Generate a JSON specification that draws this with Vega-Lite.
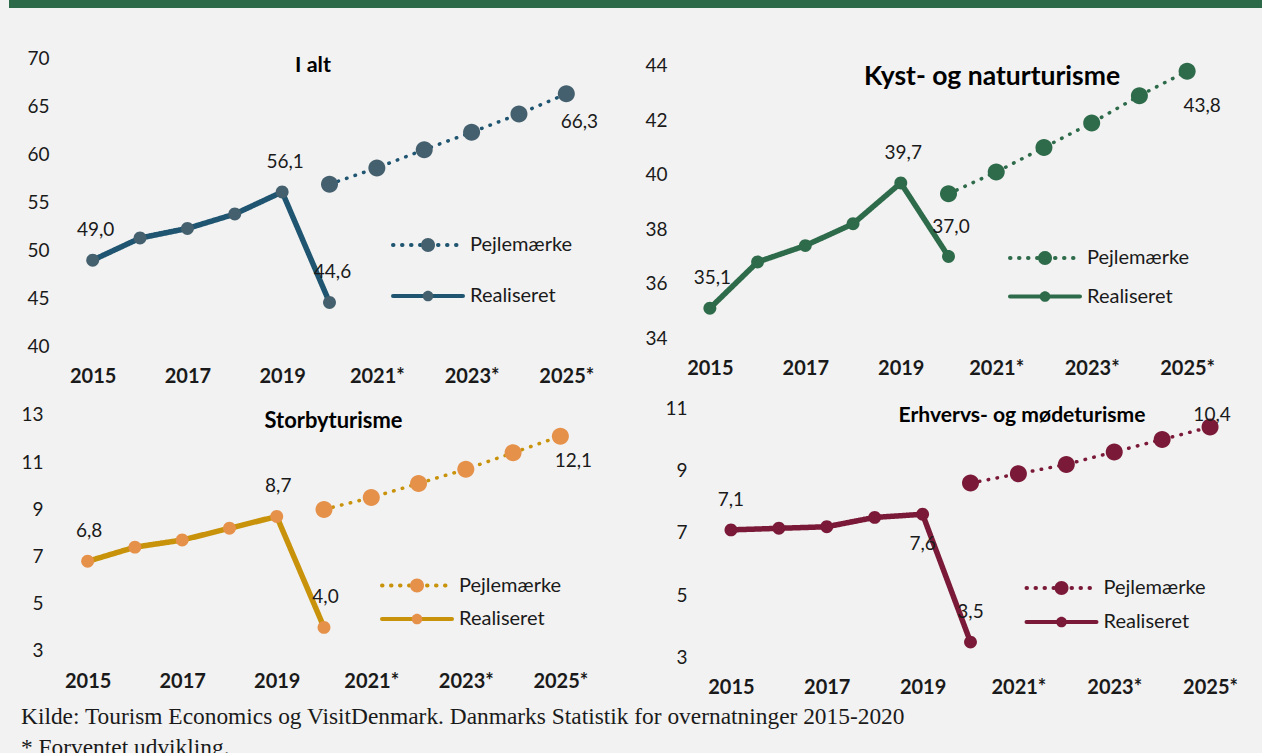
{
  "$schema": "https://vega.github.io/schema/vega-lite/v6.json",
  "background": "#F2F2F2",
  "padding": {"left": 9, "top": 0, "right": 0, "bottom": -7},
  "title": {
    "text": ["Kilde: Tourism Economics og VisitDenmark. Danmarks Statistik for overnatninger 2015-2020", "* Forventet udvikling."],
    "orient": "bottom", "anchor": "start", "frame": "group", "font": "Liberation Serif", "fontSize": 23.4, "fontWeight": "normal",
    "color": "#1a1a1a", "lineHeight": 31, "offset": 6, "dx": 12, "baseline": "top"
  },
  "datasets": {
    "ialt": [
      {"year": 2015, "serie": "Realiseret", "value": 49.0},
      {"year": 2016, "serie": "Realiseret", "value": 51.3},
      {"year": 2017, "serie": "Realiseret", "value": 52.3},
      {"year": 2018, "serie": "Realiseret", "value": 53.8},
      {"year": 2019, "serie": "Realiseret", "value": 56.1},
      {"year": 2020, "serie": "Realiseret", "value": 44.6},
      {"year": 2020, "serie": "Pejlemærke", "value": 56.9},
      {"year": 2021, "serie": "Pejlemærke", "value": 58.6},
      {"year": 2022, "serie": "Pejlemærke", "value": 60.5},
      {"year": 2023, "serie": "Pejlemærke", "value": 62.3},
      {"year": 2024, "serie": "Pejlemærke", "value": 64.2},
      {"year": 2025, "serie": "Pejlemærke", "value": 66.3}
    ],
    "kyst": [
      {"year": 2015, "serie": "Realiseret", "value": 35.1},
      {"year": 2016, "serie": "Realiseret", "value": 36.8},
      {"year": 2017, "serie": "Realiseret", "value": 37.4},
      {"year": 2018, "serie": "Realiseret", "value": 38.2},
      {"year": 2019, "serie": "Realiseret", "value": 39.7},
      {"year": 2020, "serie": "Realiseret", "value": 37.0},
      {"year": 2020, "serie": "Pejlemærke", "value": 39.3},
      {"year": 2021, "serie": "Pejlemærke", "value": 40.1},
      {"year": 2022, "serie": "Pejlemærke", "value": 41.0},
      {"year": 2023, "serie": "Pejlemærke", "value": 41.9},
      {"year": 2024, "serie": "Pejlemærke", "value": 42.9},
      {"year": 2025, "serie": "Pejlemærke", "value": 43.8}
    ],
    "storby": [
      {"year": 2015, "serie": "Realiseret", "value": 6.8},
      {"year": 2016, "serie": "Realiseret", "value": 7.4},
      {"year": 2017, "serie": "Realiseret", "value": 7.7},
      {"year": 2018, "serie": "Realiseret", "value": 8.2},
      {"year": 2019, "serie": "Realiseret", "value": 8.7},
      {"year": 2020, "serie": "Realiseret", "value": 4.0},
      {"year": 2020, "serie": "Pejlemærke", "value": 9.0},
      {"year": 2021, "serie": "Pejlemærke", "value": 9.5},
      {"year": 2022, "serie": "Pejlemærke", "value": 10.1},
      {"year": 2023, "serie": "Pejlemærke", "value": 10.7},
      {"year": 2024, "serie": "Pejlemærke", "value": 11.4},
      {"year": 2025, "serie": "Pejlemærke", "value": 12.1}
    ],
    "erhverv": [
      {"year": 2015, "serie": "Realiseret", "value": 7.1},
      {"year": 2016, "serie": "Realiseret", "value": 7.15},
      {"year": 2017, "serie": "Realiseret", "value": 7.2},
      {"year": 2018, "serie": "Realiseret", "value": 7.5},
      {"year": 2019, "serie": "Realiseret", "value": 7.6},
      {"year": 2020, "serie": "Realiseret", "value": 3.5},
      {"year": 2020, "serie": "Pejlemærke", "value": 8.6},
      {"year": 2021, "serie": "Pejlemærke", "value": 8.9},
      {"year": 2022, "serie": "Pejlemærke", "value": 9.2},
      {"year": 2023, "serie": "Pejlemærke", "value": 9.6},
      {"year": 2024, "serie": "Pejlemærke", "value": 10.0},
      {"year": 2025, "serie": "Pejlemærke", "value": 10.4}
    ]
  },
  "columns": 2,
  "spacing": 0,
  "bounds": "flush",
  "align": "each",
  "resolve": {
    "scale": {"strokeDash": "independent", "shape": "independent"},
    "legend": {"strokeDash": "independent", "shape": "independent"}
  },
  "concat": [
    {"width": 629, "height": 8, "view": {"fill": "#2D6A4A", "stroke": null}, "data": {"values": [{}]}, "mark": {"type": "rect", "color": "#2D6A4A"}, "encoding": {}},
    {"width": 624, "height": 8, "view": {"fill": "#2D6A4A", "stroke": null}, "data": {"values": [{}]}, "mark": {"type": "rect", "color": "#2D6A4A"}, "encoding": {}},
    {
      "width": 629, "height": 382,
      "title": {"text": "I alt", "fontSize": 21.5, "anchor": "middle", "frame": "group", "baseline": "top", "offset": -68, "dx": -10.5},
      "data": {"name": "ialt"},
      "encoding": {
        "x": {"field": "year", "type": "quantitative", "scale": {"domain": [2013.2332, 2026.5134], "nice": false, "zero": false},
          "axis": {"values": [2015, 2017, 2019, 2021, 2023, 2025], "labelExpr": "datum.value > 2020 ? datum.value + '*' : '' + datum.value", "offset": -43.3, "labelPadding": 30, "title": null}},
        "y": {"field": "value", "type": "quantitative", "scale": {"domain": [35.4958, 75.2324], "nice": false, "zero": false},
          "axis": {"values": [40, 45, 50, 55, 60, 65, 70], "format": "d", "offset": -60, "labelPadding": 20, "title": null}}
      },
      "layer": [
        {"data": {"values": [{}]}, "mark": {"type": "rule", "color": "#D9D9D9", "strokeWidth": 2}, "encoding": {"x": {"datum": 2014.5, "type": "quantitative"}, "x2": {"datum": 2025.5}, "y": {"datum": 40, "type": "quantitative"}}},
        {"transform": [{"filter": "datum.serie == 'Pejlemærke'"}],
          "mark": {"type": "line", "color": "#1F5570", "strokeCap": "round", "strokeJoin": "round", "strokeWidth": 3.5},
          "encoding": {
            "strokeDash": {"field": "serie", "type": "nominal", "scale": {"domain": ["Pejlemærke", "Realiseret"], "range": [[0.5, 8.5], [1, 0]]},
              "legend": {"orient": "none", "legendX": 409, "legendY": 227, "title": null, "symbolType": "M-5,0H5", "symbolSize": 196, "symbolStrokeWidth": 4, "symbolStrokeColor": "#1F5570", "labelOffset": 32, "rowPadding": 31, "padding": 0,
                "encoding": {"symbols": {"strokeCap": {"value": "round"}, "strokeWidth": {"signal": "datum.value == 'Realiseret' ? 5.5 : 3.5"}}}}}
          }},
        {"transform": [{"filter": "datum.serie == 'Realiseret'"}],
          "mark": {"type": "line", "color": "#1F5570", "strokeCap": "round", "strokeJoin": "round", "strokeWidth": 5.5},
          "encoding": {
            "strokeDash": {"field": "serie", "type": "nominal", "scale": {"domain": ["Pejlemærke", "Realiseret"], "range": [[0.5, 8.5], [1, 0]]},
              "legend": {"orient": "none", "legendX": 409, "legendY": 227, "title": null, "symbolType": "M-5,0H5", "symbolSize": 196, "symbolStrokeWidth": 4, "symbolStrokeColor": "#1F5570", "labelOffset": 32, "rowPadding": 31, "padding": 0,
                "encoding": {"symbols": {"strokeCap": {"value": "round"}, "strokeWidth": {"signal": "datum.value == 'Realiseret' ? 5.5 : 3.5"}}}}}
          }},
        {"mark": {"type": "point", "filled": true, "color": "#44606E", "size": 289, "opacity": 1, "strokeWidth": 0},
          "encoding": {"shape": {"field": "serie", "type": "nominal", "scale": {"range": ["M-1,0A1,1,0,1,1,1,0A1,1,0,1,1,-1,0Z", "M-0.76,0A0.76,0.76,0,1,1,0.76,0A0.76,0.76,0,1,1,-0.76,0Z"]},
            "legend": {"orient": "none", "legendX": 409, "legendY": 227, "title": null, "symbolSize": 196, "symbolFillColor": "#44606E", "symbolStrokeWidth": 0, "labelOffset": 32, "rowPadding": 31, "padding": 0, "labelOpacity": 0}}}},
        {"transform": [{"filter": "datum.serie == 'Realiseret' && (datum.year == 2015 || datum.year == 2019 || datum.year == 2020)"}],
          "mark": {"type": "text", "dx": 3, "dy": -30, "fontSize": 19, "color": "#1a1a1a", "baseline": "middle"},
          "encoding": {"text": {"field": "value", "type": "quantitative", "format": ".1f"}}},
        {"transform": [{"filter": "datum.serie == 'Pejlemærke' && datum.year == 2025"}],
          "mark": {"type": "text", "dx": 13, "dy": 28, "fontSize": 19, "color": "#1a1a1a", "baseline": "middle"},
          "encoding": {"text": {"field": "value", "type": "quantitative", "format": ".1f"}}}
      ]
    },
    {
      "width": 624, "height": 382,
      "title": {"text": "Kyst- og naturturisme", "fontSize": 26.5, "anchor": "middle", "frame": "group", "baseline": "top", "offset": -82, "dx": 42},
      "data": {"name": "kyst"},
      "encoding": {
        "x": {"field": "year", "type": "quantitative", "scale": {"domain": [2013.4943, 2026.5686], "nice": false, "zero": false},
          "axis": {"values": [2015, 2017, 2019, 2021, 2023, 2025], "labelExpr": "datum.value > 2020 ? datum.value + '*' : '' + datum.value", "offset": -51.7, "labelPadding": 30, "title": null}},
        "y": {"field": "value", "type": "quantitative", "scale": {"domain": [32.1034, 46.1167], "nice": false, "zero": false},
          "axis": {"values": [34, 36, 38, 40, 42, 44], "format": "d", "offset": -48, "labelPadding": 19, "title": null}}
      },
      "layer": [
        {"data": {"values": [{}]}, "mark": {"type": "rule", "color": "#D9D9D9", "strokeWidth": 2}, "encoding": {"x": {"datum": 2014.5, "type": "quantitative"}, "x2": {"datum": 2025.5}, "y": {"datum": 34, "type": "quantitative"}}},
        {"transform": [{"filter": "datum.serie == 'Pejlemærke'"}],
          "mark": {"type": "line", "color": "#2E6B4A", "strokeCap": "round", "strokeJoin": "round", "strokeWidth": 3.5},
          "encoding": {
            "strokeDash": {"field": "serie", "type": "nominal", "scale": {"domain": ["Pejlemærke", "Realiseret"], "range": [[0.5, 8.5], [1, 0]]},
              "legend": {"orient": "none", "legendX": 397, "legendY": 240, "title": null, "symbolType": "M-5,0H5", "symbolSize": 196, "symbolStrokeWidth": 4, "symbolStrokeColor": "#2E6B4A", "labelOffset": 32, "rowPadding": 18.5, "padding": 0,
                "encoding": {"symbols": {"strokeCap": {"value": "round"}, "strokeWidth": {"signal": "datum.value == 'Realiseret' ? 5.5 : 3.5"}}}}}
          }},
        {"transform": [{"filter": "datum.serie == 'Realiseret'"}],
          "mark": {"type": "line", "color": "#2E6B4A", "strokeCap": "round", "strokeJoin": "round", "strokeWidth": 5.5},
          "encoding": {
            "strokeDash": {"field": "serie", "type": "nominal", "scale": {"domain": ["Pejlemærke", "Realiseret"], "range": [[0.5, 8.5], [1, 0]]},
              "legend": {"orient": "none", "legendX": 397, "legendY": 240, "title": null, "symbolType": "M-5,0H5", "symbolSize": 196, "symbolStrokeWidth": 4, "symbolStrokeColor": "#2E6B4A", "labelOffset": 32, "rowPadding": 18.5, "padding": 0,
                "encoding": {"symbols": {"strokeCap": {"value": "round"}, "strokeWidth": {"signal": "datum.value == 'Realiseret' ? 5.5 : 3.5"}}}}}
          }},
        {"mark": {"type": "point", "filled": true, "color": "#2E6B4A", "size": 289, "opacity": 1, "strokeWidth": 0},
          "encoding": {"shape": {"field": "serie", "type": "nominal", "scale": {"range": ["M-1,0A1,1,0,1,1,1,0A1,1,0,1,1,-1,0Z", "M-0.76,0A0.76,0.76,0,1,1,0.76,0A0.76,0.76,0,1,1,-0.76,0Z"]},
            "legend": {"orient": "none", "legendX": 397, "legendY": 240, "title": null, "symbolSize": 196, "symbolFillColor": "#2E6B4A", "symbolStrokeWidth": 0, "labelOffset": 32, "rowPadding": 18.5, "padding": 0, "labelOpacity": 0}}}},
        {"transform": [{"filter": "datum.serie == 'Realiseret' && (datum.year == 2015 || datum.year == 2019 || datum.year == 2020)"}],
          "mark": {"type": "text", "dx": 2.5, "dy": -30, "fontSize": 19, "color": "#1a1a1a", "baseline": "middle"},
          "encoding": {"text": {"field": "value", "type": "quantitative", "format": ".1f"}}},
        {"transform": [{"filter": "datum.serie == 'Pejlemærke' && datum.year == 2025"}],
          "mark": {"type": "text", "dx": 15, "dy": 35, "fontSize": 19, "color": "#1a1a1a", "baseline": "middle"},
          "encoding": {"text": {"field": "value", "type": "quantitative", "format": ".1f"}}}
      ]
    },
    {
      "width": 629, "height": 310,
      "title": {"text": "Storbyturisme", "fontSize": 21.9, "anchor": "middle", "frame": "group", "baseline": "top", "offset": -43, "dx": 10},
      "data": {"name": "storby"},
      "encoding": {
        "x": {"field": "year", "type": "quantitative", "scale": {"domain": [2013.3365, 2026.6423], "nice": false, "zero": false},
          "axis": {"values": [2015, 2017, 2019, 2021, 2023, 2025], "labelExpr": "datum.value > 2020 ? datum.value + '*' : '' + datum.value", "offset": -49, "labelPadding": 30, "title": null}},
        "y": {"field": "value", "type": "quantitative", "scale": {"domain": [0.9237, 14.0593], "nice": false, "zero": false},
          "axis": {"values": [3, 5, 7, 9, 11, 13], "format": "d", "offset": -55, "labelPadding": 21, "title": null}}
      },
      "layer": [
        {"data": {"values": [{}]}, "mark": {"type": "rule", "color": "#D9D9D9", "strokeWidth": 2}, "encoding": {"x": {"datum": 2014.5, "type": "quantitative"}, "x2": {"datum": 2025.5}, "y": {"datum": 3, "type": "quantitative"}}},
        {"transform": [{"filter": "datum.serie == 'Pejlemærke'"}],
          "mark": {"type": "line", "color": "#C8920A", "strokeCap": "round", "strokeJoin": "round", "strokeWidth": 3.5},
          "encoding": {
            "strokeDash": {"field": "serie", "type": "nominal", "scale": {"domain": ["Pejlemærke", "Realiseret"], "range": [[0.5, 8.5], [1, 0]]},
              "legend": {"orient": "none", "legendX": 398, "legendY": 185.5, "title": null, "symbolType": "M-5,0H5", "symbolSize": 196, "symbolStrokeWidth": 4, "symbolStrokeColor": "#C8920A", "labelOffset": 32, "rowPadding": 13.5, "padding": 0,
                "encoding": {"symbols": {"strokeCap": {"value": "round"}, "strokeWidth": {"signal": "datum.value == 'Realiseret' ? 5.5 : 3.5"}}}}}
          }},
        {"transform": [{"filter": "datum.serie == 'Realiseret'"}],
          "mark": {"type": "line", "color": "#C8920A", "strokeCap": "round", "strokeJoin": "round", "strokeWidth": 5.5},
          "encoding": {
            "strokeDash": {"field": "serie", "type": "nominal", "scale": {"domain": ["Pejlemærke", "Realiseret"], "range": [[0.5, 8.5], [1, 0]]},
              "legend": {"orient": "none", "legendX": 398, "legendY": 185.5, "title": null, "symbolType": "M-5,0H5", "symbolSize": 196, "symbolStrokeWidth": 4, "symbolStrokeColor": "#C8920A", "labelOffset": 32, "rowPadding": 13.5, "padding": 0,
                "encoding": {"symbols": {"strokeCap": {"value": "round"}, "strokeWidth": {"signal": "datum.value == 'Realiseret' ? 5.5 : 3.5"}}}}}
          }},
        {"mark": {"type": "point", "filled": true, "color": "#E5914A", "size": 289, "opacity": 1, "strokeWidth": 0},
          "encoding": {"shape": {"field": "serie", "type": "nominal", "scale": {"range": ["M-1,0A1,1,0,1,1,1,0A1,1,0,1,1,-1,0Z", "M-0.76,0A0.76,0.76,0,1,1,0.76,0A0.76,0.76,0,1,1,-0.76,0Z"]},
            "legend": {"orient": "none", "legendX": 398, "legendY": 185.5, "title": null, "symbolSize": 196, "symbolFillColor": "#E5914A", "symbolStrokeWidth": 0, "labelOffset": 32, "rowPadding": 13.5, "padding": 0, "labelOpacity": 0}}}},
        {"transform": [{"filter": "datum.serie == 'Realiseret' && (datum.year == 2015 || datum.year == 2019 || datum.year == 2020)"}],
          "mark": {"type": "text", "dx": 1.5, "dy": -30, "fontSize": 19, "color": "#1a1a1a", "baseline": "middle"},
          "encoding": {"text": {"field": "value", "type": "quantitative", "format": ".1f"}}},
        {"transform": [{"filter": "datum.serie == 'Pejlemærke' && datum.year == 2025"}],
          "mark": {"type": "text", "dx": 13, "dy": 25, "fontSize": 19, "color": "#1a1a1a", "baseline": "middle"},
          "encoding": {"text": {"field": "value", "type": "quantitative", "format": ".1f"}}}
      ]
    },
    {
      "width": 624, "height": 310,
      "title": {"text": "Erhvervs- og mødeturisme", "fontSize": 21.1, "anchor": "middle", "frame": "group", "baseline": "top", "offset": -36, "dx": 72},
      "data": {"name": "erhverv"},
      "encoding": {
        "x": {"field": "year", "type": "quantitative", "scale": {"domain": [2013.0598, 2026.0844], "nice": false, "zero": false},
          "axis": {"values": [2015, 2017, 2019, 2021, 2023, 2025], "labelExpr": "datum.value > 2020 ? datum.value + '*' : '' + datum.value", "offset": -42.3, "labelPadding": 30, "title": null}},
        "y": {"field": "value", "type": "quantitative", "scale": {"domain": [1.6431, 11.587], "nice": false, "zero": false},
          "axis": {"values": [3, 5, 7, 9, 11], "format": "d", "offset": -69, "labelPadding": 20, "title": null}}
      },
      "layer": [
        {"data": {"values": [{}]}, "mark": {"type": "rule", "color": "#D9D9D9", "strokeWidth": 2}, "encoding": {"x": {"datum": 2014.5, "type": "quantitative"}, "x2": {"datum": 2025.5}, "y": {"datum": 3, "type": "quantitative"}}},
        {"transform": [{"filter": "datum.serie == 'Pejlemærke'"}],
          "mark": {"type": "line", "color": "#7A1A38", "strokeCap": "round", "strokeJoin": "round", "strokeWidth": 3.5},
          "encoding": {
            "strokeDash": {"field": "serie", "type": "nominal", "scale": {"domain": ["Pejlemærke", "Realiseret"], "range": [[0.5, 8.5], [1, 0]]},
              "legend": {"orient": "none", "legendX": 413.5, "legendY": 188, "title": null, "symbolType": "M-5,0H5", "symbolSize": 196, "symbolStrokeWidth": 4, "symbolStrokeColor": "#7A1A38", "labelOffset": 32, "rowPadding": 14, "padding": 0,
                "encoding": {"symbols": {"strokeCap": {"value": "round"}, "strokeWidth": {"signal": "datum.value == 'Realiseret' ? 5.5 : 3.5"}}}}}
          }},
        {"transform": [{"filter": "datum.serie == 'Realiseret'"}],
          "mark": {"type": "line", "color": "#7A1A38", "strokeCap": "round", "strokeJoin": "round", "strokeWidth": 5.5},
          "encoding": {
            "strokeDash": {"field": "serie", "type": "nominal", "scale": {"domain": ["Pejlemærke", "Realiseret"], "range": [[0.5, 8.5], [1, 0]]},
              "legend": {"orient": "none", "legendX": 413.5, "legendY": 188, "title": null, "symbolType": "M-5,0H5", "symbolSize": 196, "symbolStrokeWidth": 4, "symbolStrokeColor": "#7A1A38", "labelOffset": 32, "rowPadding": 14, "padding": 0,
                "encoding": {"symbols": {"strokeCap": {"value": "round"}, "strokeWidth": {"signal": "datum.value == 'Realiseret' ? 5.5 : 3.5"}}}}}
          }},
        {"mark": {"type": "point", "filled": true, "color": "#7A1A38", "size": 289, "opacity": 1, "strokeWidth": 0},
          "encoding": {"shape": {"field": "serie", "type": "nominal", "scale": {"range": ["M-1,0A1,1,0,1,1,1,0A1,1,0,1,1,-1,0Z", "M-0.76,0A0.76,0.76,0,1,1,0.76,0A0.76,0.76,0,1,1,-0.76,0Z"]},
            "legend": {"orient": "none", "legendX": 413.5, "legendY": 188, "title": null, "symbolSize": 196, "symbolFillColor": "#7A1A38", "symbolStrokeWidth": 0, "labelOffset": 32, "rowPadding": 14, "padding": 0, "labelOpacity": 0}}}},
        {"transform": [{"filter": "datum.serie == 'Realiseret' && (datum.year == 2015 || datum.year == 2020)"}],
          "mark": {"type": "text", "dx": 0, "dy": -30, "fontSize": 19, "color": "#1a1a1a", "baseline": "middle"},
          "encoding": {"text": {"field": "value", "type": "quantitative", "format": ".1f"}}},
        {"transform": [{"filter": "datum.serie == 'Realiseret' && datum.year == 2019"}],
          "mark": {"type": "text", "dx": 0, "dy": 30, "fontSize": 19, "color": "#1a1a1a", "baseline": "middle"},
          "encoding": {"text": {"field": "value", "type": "quantitative", "format": ".1f"}}},
        {"transform": [{"filter": "datum.serie == 'Pejlemærke' && datum.year == 2025"}],
          "mark": {"type": "text", "dx": 2, "dy": -12, "fontSize": 19, "color": "#1a1a1a", "baseline": "middle"},
          "encoding": {"text": {"field": "value", "type": "quantitative", "format": ".1f"}}}
      ]
    }
  ],
  "config": {
    "locale": {"number": {"decimal": ",", "thousands": ".", "grouping": [3], "currency": ["", " kr."]}},
    "view": {"stroke": null},
    "font": "Lato",
    "text": {"font": "Lato"},
    "title": {"font": "Lato", "fontWeight": "bold", "color": "#000000"},
    "axis": {"grid": false, "domain": false, "ticks": false, "tickSize": 0, "labelFont": "Lato", "labelColor": "#1a1a1a", "labelFlush": false, "labelOverlap": false, "labelBound": false},
    "axisX": {"labelFontSize": 20, "labelFontWeight": "bold", "labelBaseline": "middle"},
    "axisY": {"labelFontSize": 19},
    "legend": {"labelFont": "Lato", "labelFontSize": 20, "labelColor": "#1a1a1a"}
  }
}
